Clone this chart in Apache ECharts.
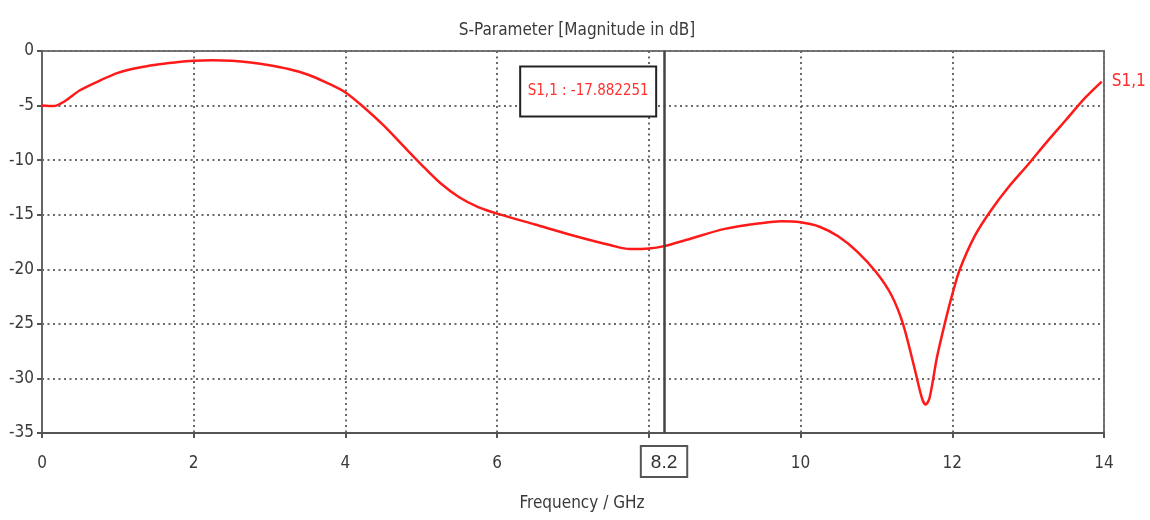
<!DOCTYPE html>
<html>
<head>
<meta charset="utf-8">
<script src="https://cdn.jsdelivr.net/npm/echarts@6/dist/echarts.min.js"></script>
<style>
html,body{margin:0;padding:0;background:#fff;}
#chart{width:1150px;height:520px;}
</style>
</head>
<body>
<div id="chart"></div>
<script>
// Frequency (GHz)
const freq = [0, 0.15, 0.3, 0.5, 0.75, 1.0, 1.25, 1.5, 1.75, 2.0, 2.25, 2.5, 2.75, 3.0, 3.25, 3.5, 3.75, 4.0, 4.25, 4.5, 4.75, 5.0, 5.25, 5.5, 5.75, 6.0, 6.5, 7.0, 7.5, 7.75, 8.0, 8.2, 8.5, 9.0, 9.5, 9.75, 10.0, 10.25, 10.5, 10.75, 11.0, 11.2, 11.35, 11.5, 11.6, 11.65, 11.7, 11.8, 11.9, 12.0, 12.1, 12.3, 12.5, 12.75, 13.0, 13.25, 13.5, 13.75, 13.97];
// S1,1 magnitude (dB)
const s11 = [-5.0, -5.05, -4.6, -3.6, -2.75, -2.0, -1.55, -1.25, -1.05, -0.9, -0.85, -0.9, -1.05, -1.3, -1.65, -2.15, -2.9, -3.8, -5.2, -6.8, -8.6, -10.4, -12.1, -13.4, -14.3, -14.9, -15.9, -16.9, -17.8, -18.15, -18.1, -17.88, -17.3, -16.3, -15.75, -15.6, -15.7, -16.1, -17.0, -18.4, -20.3, -22.4, -25, -29, -31.8, -32.4, -31.8, -28, -25, -22.3, -20, -16.9, -14.7, -12.4, -10.4, -8.3, -6.3, -4.3, -2.8];
const xTicks = [0, 2, 4, 6, 8, 10, 12, 14];
const yTicks = [0, -5, -10, -15, -20, -25, -30, -35];
const hiddenXTicks = [8];
const cursorFreq = 8.2;
const cursorValue = -17.882251;
const cursorBoxPos = [7.2, -3.72];
const seriesName = 'S1,1';
const titleText = 'S-Parameter [Magnitude in dB]';
const xName = 'Frequency / GHz';

const narrow = "'Liberation Sans Narrow', 'DejaVu Sans Condensed', sans-serif";
const chart = echarts.init(document.getElementById('chart'), null, {renderer: 'canvas'});
const dotted = {color: '#6a6a6a', width: 2, type: [2, 3.5]};

chart.setOption({
  animation: false,
  backgroundColor: '#fff',
  title: {
    text: titleText,
    left: 572, top: 17, textAlign: 'center',
    textStyle: {fontFamily: narrow, fontSize: 17, fontWeight: 'normal', color: '#3a3a3a'}
  },
  grid: {
    left: 42, right: 46, top: 51, bottom: 87,
    show: true, borderColor: '#777', borderWidth: 2, backgroundColor: '#fff'
  },
  xAxis: {
    type: 'value', min: xTicks[0], max: xTicks[xTicks.length - 1], interval: 2,
    name: xName, nameLocation: 'middle', nameGap: 62,
    nameTextStyle: {fontFamily: narrow, fontSize: 17, color: '#3a3a3a', padding: [0, 0, 0, 18]},
    axisLine: {show: true, onZero: false, lineStyle: {color: '#555', width: 2}},
    axisTick: {show: true, length: 5, lineStyle: {color: '#555', width: 2}},
    axisLabel: {
      margin: 22, fontFamily: narrow, fontSize: 17, color: '#3a3a3a',
      formatter: v => hiddenXTicks.includes(v) ? '' : String(v)
    },
    splitLine: {show: true, lineStyle: dotted}
  },
  yAxis: {
    type: 'value', min: yTicks[yTicks.length - 1], max: yTicks[0], interval: 5,
    axisLine: {show: true, onZero: false, lineStyle: {color: '#666', width: 2}},
    axisTick: {show: true, length: 5, lineStyle: {color: '#555', width: 2}},
    axisLabel: {margin: 8, fontFamily: narrow, fontSize: 17, color: '#3a3a3a'},
    splitLine: {show: true, lineStyle: dotted}
  },
  series: [{
    name: seriesName,
    type: 'line',
    data: freq.map((f, i) => [f, s11[i]]),
    smooth: 0.3,
    showSymbol: false,
    lineStyle: {color: '#ff1a1a', width: 2.5},
    itemStyle: {color: '#ff1a1a'},
    endLabel: {
      show: true, formatter: seriesName, distance: 10,
      fontFamily: narrow, fontSize: 17, color: '#ff2a2a'
    },
    markLine: {
      silent: true, symbol: 'none', animation: false,
      lineStyle: {color: '#444', width: 2.5, type: 'solid'},
      label: {
        show: true, position: 'start', distance: 14,
        formatter: String(cursorFreq),
        fontFamily: "'Liberation Sans', Arial, sans-serif", fontSize: 19, color: '#333',
        backgroundColor: '#fff', borderColor: '#555', borderWidth: 2,
        padding: [6, 9, 4, 9]
      },
      data: [{xAxis: cursorFreq}]
    },
    markPoint: {
      silent: true, animation: false,
      symbol: 'circle', symbolSize: 0,
      label: {
        show: true, position: 'inside',
        formatter: seriesName + ' : ' + cursorValue,
        fontFamily: narrow, fontSize: 15, color: '#ff3030',
        backgroundColor: '#fff', borderColor: '#222', borderWidth: 2,
        width: 120, align: 'center',
        padding: [17, 7, 16, 7]
      },
      data: [{coord: cursorBoxPos}]
    }
  }]
});
</script>
</body>
</html>
